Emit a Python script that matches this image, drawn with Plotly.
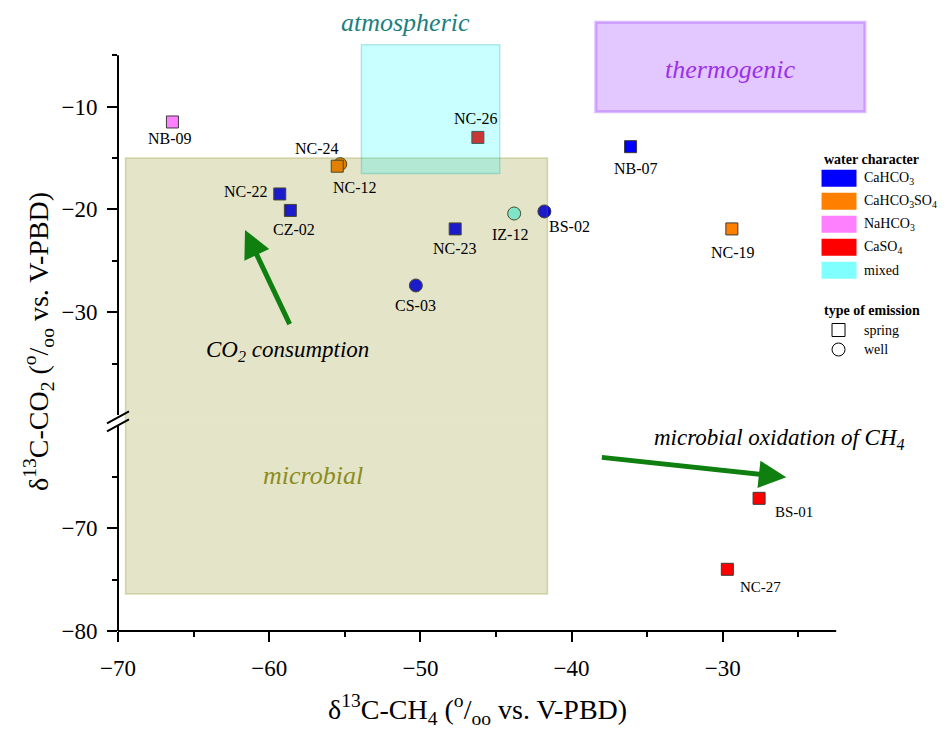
import plotly.graph_objects as go

# ---------------- data ----------------
sample_names = ["NB-09", "NC-24", "NC-12", "NC-22", "CZ-02", "NC-26", "NB-07",
                "IZ-12", "BS-02", "NC-23", "CS-03", "NC-19", "BS-01", "NC-27"]
d13c_ch4 = [-66.4, -55.3, -55.5, -59.3, -58.6, -46.2, -36.1,
            -43.8, -41.8, -47.7, -50.3, -29.4, -27.6, -29.7]
d13c_co2 = [-11.5, -15.6, -15.8, -18.5, -20.1, -13.0, -13.9,
            -20.4, -20.2, -21.9, -27.4, -21.9, -67.1, -74.0]
water_type = ["NaHCO3", "CaHCO3SO4", "CaHCO3SO4", "CaHCO3", "CaHCO3", "CaSO4", "CaHCO3",
              "mixed", "CaHCO3", "CaHCO3", "CaHCO3", "CaHCO3SO4", "CaSO4", "CaSO4"]
emission_type = ["spring", "well", "spring", "spring", "spring", "spring", "spring",
                 "well", "well", "spring", "well", "spring", "spring", "spring"]

water_types = ["CaHCO3", "CaHCO3SO4", "NaHCO3", "CaSO4", "mixed"]
water_labels = ["CaHCO<sub>3</sub>", "CaHCO<sub>3</sub>SO<sub>4</sub>",
                "NaHCO<sub>3</sub>", "CaSO<sub>4</sub>", "mixed"]
emission_types = ["spring", "well"]

# genetic fields (CH4 range, CO2 range)
microbial_ch4, microbial_co2 = (-69.5, -41.6), (-76.4, -15.0)
atmospheric_ch4, atmospheric_co2 = (-53.9, -44.75), (-16.5, -4.0)
thermogenic_ch4, thermogenic_co2 = (-38.4, -20.6), (-10.5, -1.8)

# process arrows: (tail CH4, tail CO2) -> (head CH4, head CO2)
co2_consumption_arrow = ((-58.6, -31.3), (-61.6, -22.0))
ch4_oxidation_arrow = ((-38.1, -63.1), (-25.8, -65.05))

x_major = [-70, -60, -50, -40, -30]
x_minor = [-65, -55, -45, -35, -25]
y_upper_major = [-10, -20, -30]
y_upper_minor = [-5, -15, -25, -35]
y_lower_major = [-70, -80]
y_lower_minor = [-65, -75]

# ---------------- styling ----------------
FONT = "Liberation Serif"
W, H = 946, 729
ML, MR, MT, MB = 118, 71.5, 14, 98
PW, PH = W - ML - MR, H - MT - MB

X_RANGE = [-70, -20]
X_AXIS_END = -22.5
UPPER_RANGE = [-40.5, -1.0]
LOWER_RANGE = [-80, -59.5]
UPPER_AXIS = (-40, -5)
LOWER_AXIS = (-80, -60)
span_u = UPPER_RANGE[1] - UPPER_RANGE[0]
span_l = LOWER_RANGE[1] - LOWER_RANGE[0]
SPLIT = span_l / (span_u + span_l)

water_colors = {"CaHCO3": "#0000ff", "CaHCO3SO4": "#ff8000", "NaHCO3": "#ff80ff",
                "CaSO4": "#ff0000", "mixed": "#80ffff"}
emission_symbols = {"spring": "square", "well": "circle"}
emission_sizes = {"spring": 12, "well": 13}

# label offsets in pixels (dx right, dy down) from the marker centre
label_offsets = {
    "NB-09": (-2, 17), "NC-24": (-23, -16), "NC-12": (18, 21), "NC-22": (-34, -2),
    "CZ-02": (4, 19), "NC-26": (-2, -19), "NB-07": (5, 22), "IZ-12": (-4, 21),
    "BS-02": (25, 15), "NC-23": (0, 20), "CS-03": (0, 20), "NC-19": (1, 24),
    "BS-01": (35, 14), "NC-27": (33, 18),
}


def px_x(px):
    return (px - ML) / PW


def px_y(py):
    return (H - MB - py) / PH


def segment(yv):
    return "y" if yv >= UPPER_RANGE[0] else "y2"


fig = go.Figure()

# ---------------- sample points ----------------
for em in ["well", "spring"]:
    for seg in ["y", "y2"]:
        idx = [i for i in range(len(sample_names))
               if emission_type[i] == em and segment(d13c_co2[i]) == seg]
        if not idx:
            continue
        fig.add_trace(go.Scatter(
            x=[d13c_ch4[i] for i in idx],
            y=[d13c_co2[i] for i in idx],
            yaxis=seg, mode="markers", showlegend=False, hoverinfo="skip",
            marker=dict(symbol=emission_symbols[em], size=emission_sizes[em],
                        color=[water_colors[water_type[i]] for i in idx],
                        line=dict(color="#3a3a3a", width=1)),
        ))

shapes = []
annotations = []


def field_shapes(ch4, co2, fill, line_color, line_width):
    """Split a field over the broken CO2 axis; edges at the break are clipped away."""
    out = []
    lo, hi = co2
    if hi >= UPPER_RANGE[0]:
        out.append(dict(type="rect", xref="x", yref="y", layer="above",
                        x0=ch4[0], x1=ch4[1], y0=max(lo, UPPER_RANGE[0] - 5), y1=hi,
                        fillcolor=fill, line=dict(color=line_color, width=line_width)))
    if lo <= LOWER_RANGE[1]:
        out.append(dict(type="rect", xref="x", yref="y2", layer="above",
                        x0=ch4[0], x1=ch4[1], y0=lo, y1=min(hi, LOWER_RANGE[1] + 5),
                        fillcolor=fill, line=dict(color=line_color, width=line_width)))
    return out


shapes += field_shapes(microbial_ch4, microbial_co2, "rgba(128,128,0,0.21)", "rgba(128,128,0,0.28)", 1.5)
shapes += field_shapes(atmospheric_ch4, atmospheric_co2, "rgba(0,255,255,0.21)", "rgba(0,160,160,0.25)", 1.5)
shapes += field_shapes(thermogenic_ch4, thermogenic_co2, "rgba(128,0,255,0.22)", "rgba(150,60,255,0.35)", 3)

# ---------------- axis lines and break marks ----------------
AX = dict(color="black", width=2)
shapes.append(dict(type="line", xref="paper", yref="y", x0=0, x1=0,
                   y0=UPPER_AXIS[0], y1=UPPER_AXIS[1], line=AX, layer="above"))
shapes.append(dict(type="line", xref="paper", yref="y2", x0=0, x1=0,
                   y0=LOWER_AXIS[0] - 0.1, y1=LOWER_AXIS[1], line=AX, layer="above"))
shapes.append(dict(type="line", xref="x", yref="paper", x0=X_RANGE[0] - 0.1, x1=X_AXIS_END,
                   y0=0, y1=0, line=AX, layer="above"))
for off in (2.7, -5.3):
    shapes.append(dict(type="line", xref="paper", yref="paper", layer="above",
                       xsizemode="pixel", xanchor=0, ysizemode="pixel", yanchor=SPLIT,
                       x0=-11, x1=11, y0=off - 6, y1=off + 6, line=AX))

# ---------------- point labels ----------------
for i, name in enumerate(sample_names):
    dx, dy = label_offsets[name]
    annotations.append(dict(
        x=d13c_ch4[i], y=d13c_co2[i], xref="x", yref=segment(d13c_co2[i]),
        text=name, showarrow=False, xshift=dx, yshift=-dy,
        xanchor="center", yanchor="middle",
        font=dict(family=FONT, size=15 if d13c_co2[i] < UPPER_RANGE[0] else 16, color="black"),
    ))

# ---------------- process arrows and field names ----------------
ARROW_GREEN = "#0f7f0f"
for (tail, head) in (co2_consumption_arrow, ch4_oxidation_arrow):
    seg = segment(head[1])
    annotations.append(dict(x=head[0], y=head[1], ax=tail[0], ay=tail[1],
                            xref="x", yref=seg, axref="x", ayref=seg, text="",
                            showarrow=True, arrowhead=2, arrowsize=1.1, arrowwidth=5,
                            arrowcolor=ARROW_GREEN, standoff=0))

text_items = [
    ("<i>CO<sub>2</sub> consumption</i>", -58.8, -33.8, "black", 23),
    ("<i>microbial oxidation of CH<sub>4</sub></i>", -26.25, -61.3, "black", 23),
    ("<i>microbial</i>", -57.1, -64.9, "#8c8c1c", 26),
    ("<i>atmospheric</i>", -51.0, -1.85, "#1c7f7f", 26),
    ("<i>thermogenic</i>", -29.55, -6.4, "#9a30ec", 26),
]
for txt, xv, yv, col, sz in text_items:
    annotations.append(dict(x=xv, y=yv, xref="x", yref=segment(yv), text=txt, showarrow=False,
                            xanchor="center", yanchor="middle",
                            font=dict(family=FONT, size=sz, color=col)))

# ---------------- axis titles ----------------
annotations.append(dict(
    x=(X_RANGE[0] + X_AXIS_END) / 2, y=px_y(709), xref="x", yref="paper",
    xanchor="center", yanchor="middle",
    text="δ<sup>13</sup>C-CH<sub>4</sub> (<sup>o</sup>/<sub>oo</sub> vs. V-PBD)",
    showarrow=False, font=dict(family=FONT, size=28, color="black")))
annotations.append(dict(
    x=px_x(38), y=px_y(342), xref="paper", yref="paper", textangle=-90,
    xanchor="center", yanchor="middle",
    text="δ<sup>13</sup>C-CO<sub>2</sub> (<sup>o</sup>/<sub>oo</sub> vs. V-PBD)",
    showarrow=False, font=dict(family=FONT, size=28, color="black")))

# ---------------- legend ----------------
LEG_X, LEG_TEXT_X = 822, 862
annotations.append(dict(x=px_x(LEG_X), y=px_y(159), xref="paper", yref="paper",
                        xanchor="left", yanchor="middle", showarrow=False,
                        text="<b>water character</b>",
                        font=dict(family=FONT, size=14, color="black")))
for k, (wt, lab) in enumerate(zip(water_types, water_labels)):
    cy = 178.3 + 23 * k
    shapes.append(dict(type="rect", xref="paper", yref="paper", layer="above",
                       x0=px_x(LEG_X), x1=px_x(LEG_X + 35), y0=px_y(cy + 8.5), y1=px_y(cy - 8.5),
                       fillcolor=water_colors[wt], line=dict(width=0)))
    annotations.append(dict(x=px_x(LEG_TEXT_X), y=px_y(cy), xref="paper", yref="paper",
                            xanchor="left", yanchor="middle", showarrow=False, text=lab,
                            font=dict(family=FONT, size=14, color="black")))
annotations.append(dict(x=px_x(LEG_X), y=px_y(310.7), xref="paper", yref="paper",
                        xanchor="left", yanchor="middle", showarrow=False,
                        text="<b>type of emission</b>",
                        font=dict(family=FONT, size=14, color="black")))
for k, em in enumerate(emission_types):
    cy = 330 + 19.5 * k
    shapes.append(dict(type="rect" if em == "spring" else "circle",
                       xref="paper", yref="paper", layer="above",
                       xsizemode="pixel", ysizemode="pixel",
                       xanchor=px_x(839), yanchor=px_y(cy), x0=-6.5, x1=6.5, y0=-6.5, y1=6.5,
                       fillcolor="white", line=dict(color="black", width=1)))
    annotations.append(dict(x=px_x(LEG_TEXT_X), y=px_y(cy), xref="paper", yref="paper",
                            xanchor="left", yanchor="middle", showarrow=False, text=em,
                            font=dict(family=FONT, size=14, color="black")))

# ---------------- axes ----------------
TICKFONT = dict(family=FONT, size=23, color="black")


def minor(vals):
    return dict(tickmode="array", tickvals=vals, ticks="outside", ticklen=5,
                tickwidth=2, tickcolor="black", showgrid=False)


common = dict(showline=False, showgrid=False, zeroline=False, ticks="outside",
              ticklen=10, tickwidth=2, tickcolor="black", tickfont=TICKFONT, tickmode="array")

fig.update_layout(
    width=W, height=H, showlegend=False,
    font=dict(family=FONT, color="black"),
    margin=dict(l=ML, r=MR, t=MT, b=MB, pad=0),
    plot_bgcolor="white", paper_bgcolor="white",
    xaxis=dict(domain=[0, 1], range=X_RANGE, anchor="y2", tickvals=x_major,
               minor=minor(x_minor), ticklabelstandoff=6, **common),
    yaxis=dict(domain=[SPLIT, 1], range=UPPER_RANGE, anchor="x", tickvals=y_upper_major,
               minor=minor(y_upper_minor), ticklabelstandoff=5, **common),
    yaxis2=dict(domain=[0, SPLIT], range=LOWER_RANGE, anchor="x", tickvals=y_lower_major,
                minor=minor(y_lower_minor), ticklabelstandoff=5, **common),
    shapes=shapes, annotations=annotations,
)

fig.write_html("out.html")
